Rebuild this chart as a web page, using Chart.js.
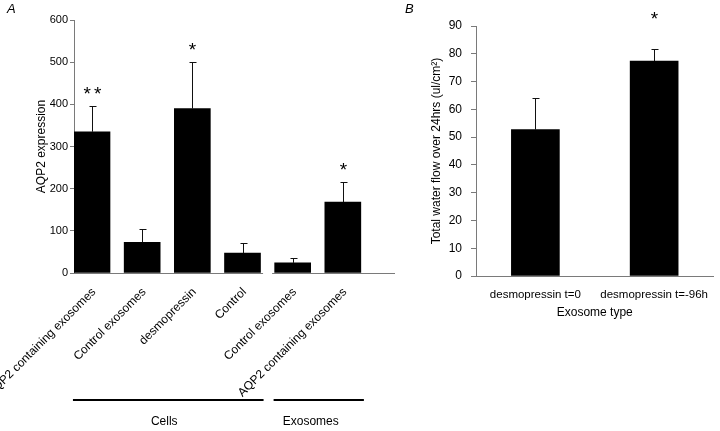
<!DOCTYPE html>
<html><head><meta charset="utf-8">
<script src="https://cdn.jsdelivr.net/npm/chart.js@4.4.1/dist/chart.umd.min.js"></script>
<style>
html,body{margin:0;padding:0;background:#fff;}
#wrap{position:relative;width:720px;height:431px;overflow:hidden;background:#fff;}
#ca{position:absolute;left:0;top:0;}
#cb{position:absolute;left:400px;top:0;}
</style></head><body>
<div id="wrap">
<canvas id="ca" width="400" height="431"></canvas>
<canvas id="cb" width="320" height="431"></canvas>
</div>
<script>
// ---- Panel A data ----
const categoriesA = ['AQP2 containing exosomes', 'Control exosomes', 'desmopressin', 'Control', 'Control exosomes', 'AQP2 containing exosomes'];
const groupsA = ['Cells', 'Cells', 'Cells', 'Cells', 'Exosomes', 'Exosomes'];
const valuesA = [335, 73, 390, 47, 24, 168];
const errorsA = [62, 31, 111, 24, 12, 47];
const starsA = ['**', '', '*', '', '', '*'];
const yTicksA = [0, 100, 200, 300, 400, 500, 600];

// ---- Panel B data ----
const categoriesB = ['desmopressin t=0', 'desmopressin t=-96h'];
const valuesB = [52.7, 77.4];
const errorsB = [11.2, 4.3];
const starsB = ['', '*'];
const yTicksB = [0, 10, 20, 30, 40, 50, 60, 70, 80, 90];

const FONT = '"Liberation Sans", Arial, Helvetica, sans-serif';
Chart.defaults.font.family = FONT;
Chart.defaults.color = '#000';
const AXIS = '#7a7a7a';

const errorBarPlugin = {
  id: 'errbars',
  afterDatasetsDraw(chart, args, opts) {
    const {ctx} = chart;
    const meta = chart.getDatasetMeta(0);
    const ys = chart.scales.y;
    const data = chart.data.datasets[0].data;
    ctx.save();
    meta.data.forEach((el, i) => {
      const v = (typeof data[i] === 'object') ? data[i].y : data[i];
      const e = opts.errors[i];
      const x = Math.round(el.x) + 0.5;
      const y1 = Math.round(ys.getPixelForValue(v + e)) + 0.5;
      ctx.strokeStyle = '#111';
      ctx.lineWidth = 1;
      ctx.beginPath();
      ctx.moveTo(x, el.y);
      ctx.lineTo(x, y1);
      ctx.moveTo(x - opts.cap, y1);
      ctx.lineTo(x + opts.cap + 1, y1);
      ctx.stroke();
      const s = opts.stars[i];
      if (s) {
        ctx.font = opts.starSize + 'px ' + FONT;
        ctx.fillStyle = '#000';
        ctx.textAlign = 'center';
        ctx.textBaseline = 'alphabetic';
        ctx.letterSpacing = s.length > 1 ? '3px' : '0px';
        ctx.fillText(s, x + (s.length > 1 ? 1.5 : 0), y1 - opts.starGap + 0.58 * opts.starSize);
        ctx.letterSpacing = '0px';
      }
    });
    ctx.restore();
  }
};

const extrasPlugin = {
  id: 'extras',
  afterDraw(chart, args, opts) {
    const {ctx, chartArea} = chart;
    ctx.save();
    // panel letter
    ctx.font = 'italic 13px ' + FONT;
    ctx.fillStyle = '#000';
    ctx.textAlign = 'left';
    ctx.textBaseline = 'alphabetic';
    ctx.fillText(opts.letter, opts.letterX, 13);
    if (opts.groups) {
      const xs = chart.scales.x;
      const y0 = Math.round(chart.scales.y.getPixelForValue(0)) + 0.5;
      const runs = [];
      opts.groups.forEach((g, i) => {
        if (runs.length && runs[runs.length - 1].label === g) runs[runs.length - 1].to = i;
        else runs.push({label: g, from: i, to: i});
      });
      runs.forEach((r, k) => {
        // broken x axis line
        const a = k === 0 ? chartArea.left : xs.getPixelForValue(r.from - 0.41);
        const b = k === runs.length - 1 ? chartArea.right : xs.getPixelForValue(r.to + 0.41);
        ctx.strokeStyle = AXIS;
        ctx.lineWidth = 1;
        ctx.beginPath();
        ctx.moveTo(a, y0);
        ctx.lineTo(b, y0);
        ctx.stroke();
        // group bracket
        const la = xs.getPixelForValue(r.from - 0.38);
        const lb = xs.getPixelForValue(r.to + 0.42);
        ctx.strokeStyle = '#000';
        ctx.lineWidth = 2;
        ctx.beginPath();
        ctx.moveTo(la, 400);
        ctx.lineTo(lb, 400);
        ctx.stroke();
        ctx.font = '12px ' + FONT;
        ctx.textAlign = 'center';
        ctx.textBaseline = 'middle';
        ctx.fillText(r.label, (la + lb) / 2 - 4 - 4 * k, 422);
      });
    }
    ctx.restore();
  }
};

// ---------- Panel A ----------
new Chart(document.getElementById('ca'), {
  type: 'bar',
  data: {
    datasets: [{
      data: valuesA.map((v, i) => ({x: i, y: v})),
      backgroundColor: '#000',
      borderWidth: 0,
      barThickness: 36
    }]
  },
  plugins: [errorBarPlugin, extrasPlugin],
  options: {
    responsive: false,
    animation: false,
    events: [],
    layout: {padding: {top: 20, right: 5, left: 0, bottom: 0}},
    plugins: {
      legend: {display: false},
      tooltip: {enabled: false},
      errbars: {errors: errorsA, stars: starsA, cap: 3, starGap: 18, starSize: 19},
      extras: {letter: 'A', letterX: 7, groups: groupsA}
    },
    scales: {
      x: {
        type: 'linear',
        offset: false,
        min: -0.359,
        max: 6.04,
        grid: {display: false, drawTicks: false},
        border: {display: false},
        afterBuildTicks: s => { s.ticks = categoriesA.map((c, i) => ({value: i})); },
        afterFit: s => { s.height = 431 - 273; s.paddingLeft = 0; s.paddingRight = 0; },
        ticks: {
          autoSkip: false,
          minRotation: 45,
          maxRotation: 45,
          padding: 12,
          labelOffset: 2,
          font: {size: 12},
          callback: v => categoriesA[v]
        }
      },
      y: {
        min: 0,
        max: 600,
        afterBuildTicks: s => { s.ticks = yTicksA.map(v => ({value: v})); },
        afterFit: s => { s.width = 74; },
        grid: {drawOnChartArea: false, drawTicks: true, tickLength: 4, color: AXIS},
        border: {display: true, color: AXIS, width: 1},
        ticks: {padding: 2, font: {size: 11}},
        title: {display: true, text: 'AQP2 expression', font: {size: 12}, padding: {top: 34, bottom: 0}}
      }
    }
  }
});

// ---------- Panel B ----------
new Chart(document.getElementById('cb'), {
  type: 'bar',
  data: {
    labels: categoriesB,
    datasets: [{
      data: valuesB,
      backgroundColor: '#000',
      borderWidth: 0,
      barThickness: 48
    }]
  },
  plugins: [errorBarPlugin, extrasPlugin],
  options: {
    responsive: false,
    animation: false,
    events: [],
    layout: {padding: {top: 26, right: 0, left: 0, bottom: 0}},
    plugins: {
      legend: {display: false},
      tooltip: {enabled: false},
      errbars: {errors: errorsB, stars: starsB, cap: 3, starGap: 36, starSize: 19},
      extras: {letter: 'B', letterX: 5}
    },
    scales: {
      x: {
        grid: {display: false, drawTicks: false},
        border: {display: true, color: AXIS, width: 1},
        afterFit: s => { s.height = 431 - 276; },
        ticks: {maxRotation: 0, minRotation: 0, padding: 12, font: {size: 11.5}},
        title: {display: true, text: 'Exosome type', font: {size: 12}, padding: {top: 0, bottom: 111}}
      },
      y: {
        min: 0,
        max: 90,
        afterBuildTicks: s => { s.ticks = yTicksB.map(v => ({value: v})); },
        afterFit: s => { s.width = 76; },
        grid: {drawOnChartArea: false, drawTicks: true, tickLength: 5, color: AXIS},
        border: {display: true, color: AXIS, width: 1},
        ticks: {padding: 9, font: {size: 12}},
        title: {display: true, text: 'Total water flow over 24hrs (ul/cm\u00B2)', font: {size: 12}, padding: {top: 29, bottom: 0}}
      }
    }
  }
});
</script>
</body></html>
